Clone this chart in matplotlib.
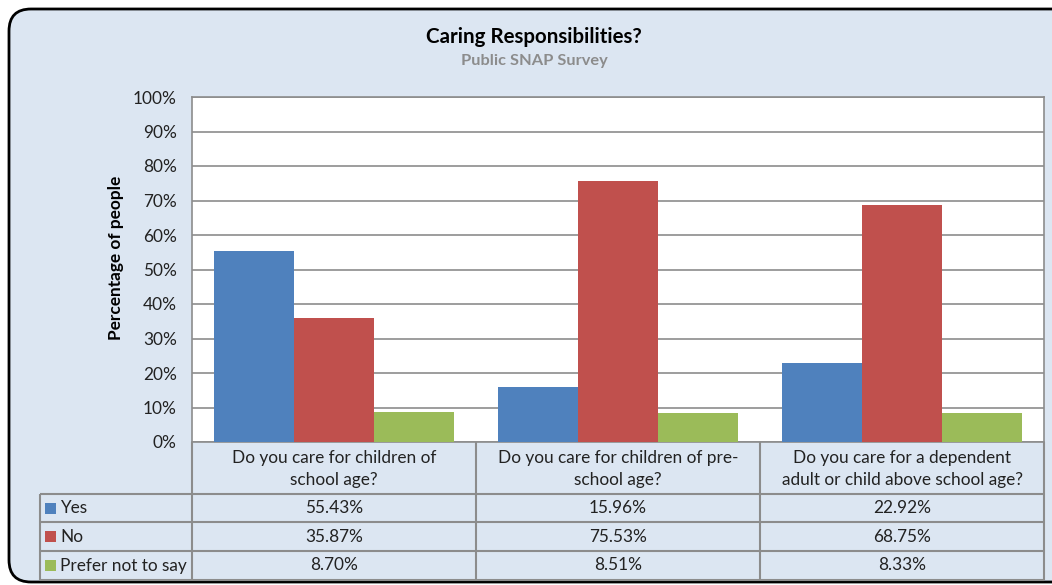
import numpy as np
import matplotlib.pyplot as plt
from matplotlib.patches import FancyBboxPatch, Rectangle

plt.rcParams['font.family'] = ['Lato', 'DejaVu Sans']

# --- Survey data ---
questions = [
    "Do you care for children of\nschool age?",
    "Do you care for children of pre-\nschool age?",
    "Do you care for a dependent\nadult or child above school age?",
]
series_names = ["Yes", "No", "Prefer not to say"]
yes_pct = [55.43, 15.96, 22.92]
no_pct = [35.87, 75.53, 68.75]
prefer_pct = [8.70, 8.51, 8.33]
colors = ["#4f81bd", "#c0504d", "#9bbb59"]

W, H = 1052, 585
BG = "#dce6f2"
GRID = "#8c8c8c"
FS = 12.4

fig = plt.figure(figsize=(W / 100, H / 100), dpi=100)
fig.patch.set_facecolor("white")

# overlay in pixel coordinates for the frame and the data table
over = fig.add_axes([0, 0, 1, 1])
over.set_xlim(0, W)
over.set_ylim(H, 0)
over.axis("off")
over.add_patch(FancyBboxPatch((9, 9), 1070, 573, boxstyle="round,pad=0,rounding_size=22",
                              facecolor=BG, edgecolor="black", linewidth=2))

# plot area
px_l, px_r, px_t, px_b = 192, 1044, 97, 442
ax = fig.add_axes([px_l / W, 1 - px_b / H, (px_r - px_l) / W, (px_b - px_t) / H])
ax.set_facecolor("white")

n = len(questions)
x = np.arange(n) + 0.5
bw = 0.282
for i, (vals, c) in enumerate(zip([yes_pct, no_pct, prefer_pct], colors)):
    ax.bar(x + (i - 1) * bw, vals, width=bw, color=c, zorder=3)

ax.set_xlim(0, n)
ax.set_ylim(0, 100)
ax.set_yticks(np.arange(0, 101, 10))
ax.set_yticklabels([f"{v}%" for v in range(0, 101, 10)], fontsize=FS, color="#222222")
ax.tick_params(axis="y", length=0, pad=11)
ax.set_xticks([])
ax.grid(axis="y", color=GRID, linewidth=1.2, zorder=1)
for s in ax.spines.values():
    s.set_color(GRID)
    s.set_linewidth(1.2)
ax.set_ylabel("Percentage of people", fontsize=12.4, fontweight="bold")
ax.yaxis.set_label_coords(-0.080, 0.533)

over.text(534, 37, "Caring Responsibilities?", ha="center", va="center",
          fontsize=14.8, fontweight="bold", color="black")
over.text(534, 61, "Public SNAP Survey", ha="center", va="center",
          fontsize=11.8, fontweight="bold", color="#8c8c8c")

# data table below the plot area
col_edges = [ax.transData.transform((k, 0))[0] for k in range(n + 1)]
row_y = [px_b, 494, 522, 551, 580]
leg_l = 40
lkw = dict(color=GRID, linewidth=1.5, solid_capstyle="butt")
for e in col_edges:
    over.plot([e, e], [px_b, row_y[-1]], **lkw)
over.plot([leg_l, leg_l], [row_y[1], row_y[-1]], **lkw)
for y in row_y[1:]:
    over.plot([leg_l, col_edges[-1]], [y, y], **lkw)

for k, q in enumerate(questions):
    cx = 0.5 * (col_edges[k] + col_edges[k + 1])
    over.text(cx, 0.5 * (row_y[0] + row_y[1]) + 1, q, ha="center", va="center",
              fontsize=FS, color="#222222", linespacing=1.4)

for r, (name, vals, c) in enumerate(zip(series_names, [yes_pct, no_pct, prefer_pct], colors)):
    cy = 0.5 * (row_y[r + 1] + row_y[r + 2])
    over.add_patch(Rectangle((45, cy - 5.5), 11, 11, facecolor=c, edgecolor="none"))
    over.text(60, cy, name, ha="left", va="center", fontsize=FS, color="#222222")
    for k, v in enumerate(vals):
        cx = 0.5 * (col_edges[k] + col_edges[k + 1])
        over.text(cx, cy, f"{v:.2f}%", ha="center", va="center", fontsize=FS, color="#222222")

fig.savefig("out.png", dpi=100, facecolor=fig.get_facecolor())
